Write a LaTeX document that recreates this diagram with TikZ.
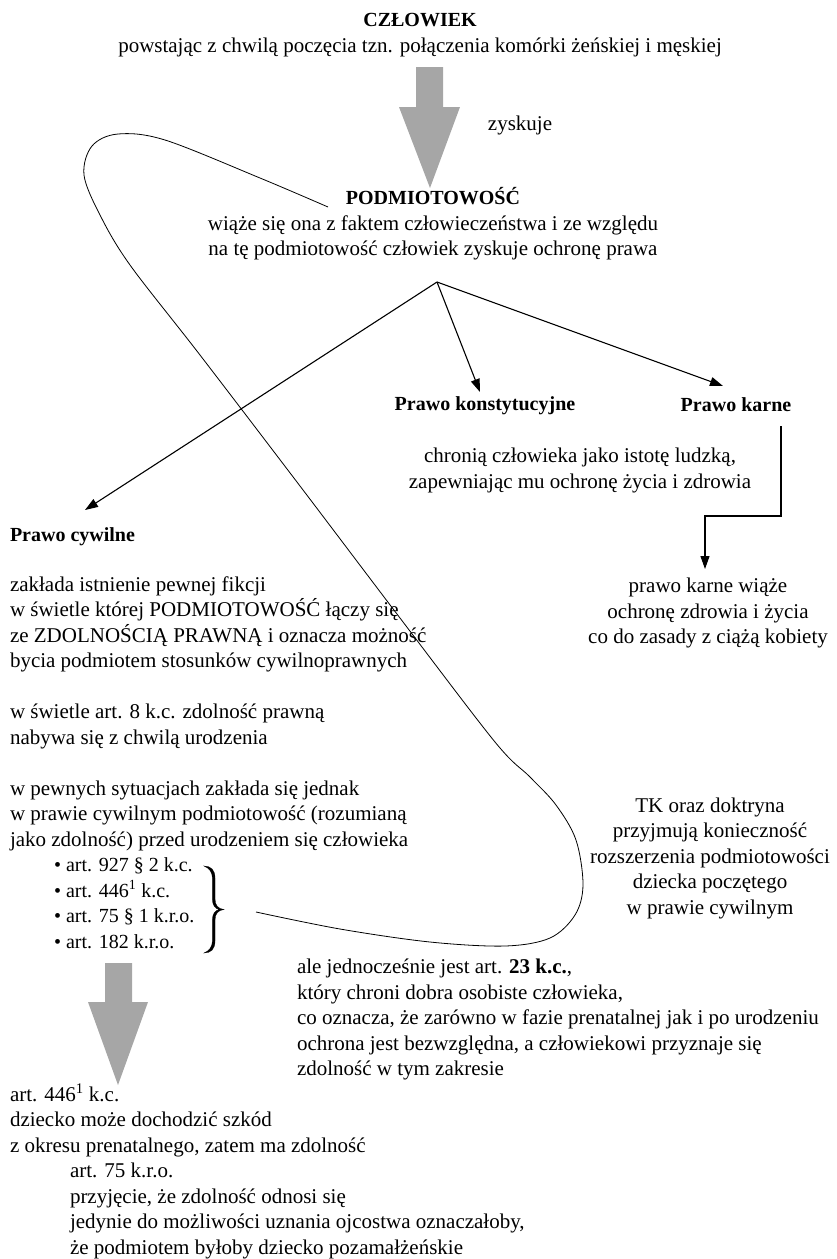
\documentclass[tikz,border=0pt]{standalone}
\usepackage{fontspec}
\setmainfont{Liberation Serif}
\usetikzlibrary{arrows.meta}
\definecolor{arrowgray}{RGB}{166,166,166}
\begin{document}
\begin{tikzpicture}[x=1pt,y=-1pt,
  txt/.style={inner sep=0pt, outer sep=0pt, font=\fontsize{21}{25.5}\selectfont},
  hd/.style={inner sep=0pt, outer sep=0pt, font=\fontsize{20}{25.5}\selectfont\bfseries},
  conn/.style={line width=1.1pt, -{Triangle[length=13pt,width=9pt]}},
  bigarr/.style={fill=arrowgray, draw=none},
  bracefill/.style={fill=black, draw=black, line width=0.3pt},
  loopline/.style={line width=0.8pt}]
\useasboundingbox (0,0) rectangle (837,1259);

% top
\node[txt, align=center, anchor=north] (czl) at (420,13.3)
  {{\fontsize{20}{25.5}\selectfont\bfseries CZŁOWIEK}\\powstając z chwilą poczęcia tzn. połączenia komórki żeńskiej i męskiej};
\draw[bigarr] (416,67) -- (443,67) -- (443,107) -- (460,107) -- (430,188) -- (399,107) -- (416,107) -- cycle;
\node[txt, anchor=base] (zysk) at (520,130) {zyskuje};
\node[txt, align=center, anchor=north] (podm) at (433,187.6)
  {{\fontsize{20}{25.5}\selectfont\bfseries PODMIOTOWOŚĆ}\\wiąże się ona z faktem człowieczeństwa i ze względu\\na tę podmiotowość człowiek zyskuje ochronę prawa};

% branches
\coordinate (apex) at (437,282);
\node[hd, anchor=base] (konst) at (485,410) {Prawo konstytucyjne};
\node[hd, anchor=base] (karne) at (736,411) {Prawo karne};
\node[hd, anchor=base west] (cyw) at (10,541) {Prawo cywilne};
\coordinate (konsttip) at (480,392);
\coordinate (karnetip) at (723,386);
\coordinate (cywtip) at (85,510);
\draw[conn] (apex) -- (konsttip);
\draw[conn] (apex) -- (karnetip);
\draw[conn] (apex) -- (cywtip);

\node[txt, align=center, anchor=north] (chron) at (580,448)
  {chronią człowieka jako istotę ludzką,\\zapewniając mu ochronę życia i zdrowia};
\coordinate (kstart) at (781,426);
\coordinate (pkwtip) at (705,569);
\draw[conn] (kstart) -- ++(0,90) -| (pkwtip);
\node[txt, align=center, anchor=north] (pkw) at (708,578)
  {prawo karne wiąże\\ochronę zdrowia i życia\\co do zasady z ciążą kobiety};
\node[txt, align=center, anchor=north] (tk) at (710,797.7)
  {TK oraz doktryna\\przyjmują konieczność\\rozszerzenia podmiotowości\\dziecka poczętego\\w prawie cywilnym};

% left column
\node[txt, align=left, anchor=north west] (blkA) at (10,576.7)
  {zakłada istnienie pewnej fikcji\\w świetle której PODMIOTOWOŚĆ łączy się\\ze ZDOLNOŚCIĄ PRAWNĄ i oznacza możność\\bycia podmiotem stosunków cywilnoprawnych};
\node[txt, align=left, anchor=north west] (blkB) at (10,704.2)
  {w świetle art. 8 k.c. zdolność prawną\\nabywa się z chwilą urodzenia};
\node[txt, align=left, anchor=north west] (blkC) at (10,780.7)
  {w pewnych sytuacjach zakłada się jednak\\w prawie cywilnym podmiotowość (rozumianą\\jako zdolność) przed urodzeniem się człowieka};
\node[txt, font=\fontsize{20}{25.5}\selectfont, align=left, anchor=north west] (bul) at (54,857.8)
  {•\hspace{5pt}art. 927 § 2 k.c.\\•\hspace{5pt}art. 446\textsuperscript{1} k.c.\\•\hspace{5pt}art. 75 § 1 k.r.o.\\•\hspace{5pt}art. 182 k.r.o.};

% brace
\coordinate (bracetip) at (224,909.5);
\filldraw[bracefill] (204,866) .. controls (211,866) and (215,870) .. (215,878) -- (215,899)
  .. controls (215,905) and (218,909) .. (bracetip)
  .. controls (218,910) and (215,914) .. (215,920) -- (215,941)
  .. controls (215,949) and (211,953) .. (204,953)
  .. controls (209,951) and (212.4,947) .. (212.4,941) -- (212.4,920)
  .. controls (212.4,914) and (215,910.5) .. (219,909.5)
  .. controls (215,908.5) and (212.4,905) .. (212.4,899) -- (212.4,878)
  .. controls (212.4,872) and (209,868) .. (204,866) -- cycle;

% loop
\coordinate (loopstart) at (256,912);
\coordinate (loopend) at (328,207);
\draw[loopline] plot[smooth, tension=0.55] coordinates {(loopstart) (340,929) (430,942) (505,946) (550,938) (575,915) (583,885) (576,840) (556,805) (530,777) (495,742) (400,618) (300,486) (200,355) (130,265) (100,215) (84,175) (92,146) (118,134) (165,140) (260,178) (loopend)};

% bottom
\draw[bigarr] (105,963) -- (132,963) -- (132,1002) -- (148,1002) -- (118,1085) -- (88,1002) -- (105,1002) -- cycle;
\node[txt, align=left, anchor=north west] (ale) at (297,959.2)
  {ale jednocześnie jest art. \textbf{23 k.c.},\\który chroni dobra osobiste człowieka,\\co oznacza, że zarówno w fazie prenatalnej jak i po urodzeniu\\ochrona jest bezwzględna, a człowiekowi przyznaje się\\zdolność w tym zakresie};
\node[txt, align=left, anchor=north west] (b1) at (10,1086.7)
  {art. 446\smash{\textsuperscript{1}} k.c.\\dziecko może dochodzić szkód\\z okresu prenatalnego, zatem ma zdolność};
\node[txt, align=left, anchor=north west] (b2) at (70,1163.2)
  {art. 75 k.r.o.\\przyjęcie, że zdolność odnosi się\\jedynie do możliwości uznania ojcostwa oznaczałoby,\\że podmiotem byłoby dziecko pozamałżeńskie};
\end{tikzpicture}
\end{document}
